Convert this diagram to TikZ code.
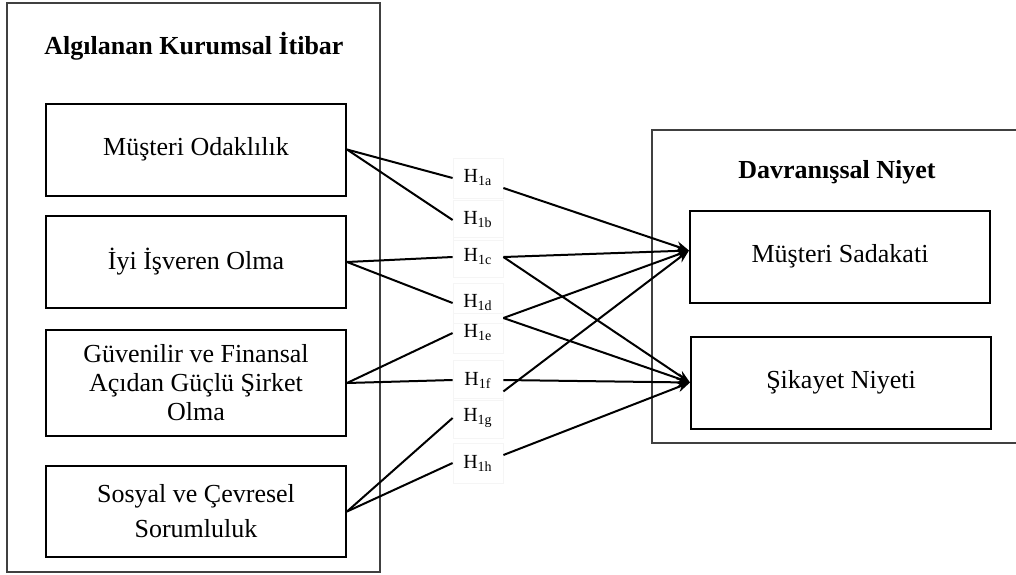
\documentclass[tikz,border=0pt]{standalone}
\usepackage{fontspec}
\setmainfont{Liberation Serif}
\usepackage{tikz}
\usetikzlibrary{arrows.meta,positioning,calc}

\begin{document}
\begin{tikzpicture}[
  x=0.5pt, y=-0.5pt,
  font=\fontsize{13}{14.5}\selectfont,
  frame/.style={draw=black!75, line width=0.6pt},
  box/.style={draw, line width=1pt, align=center, inner sep=4pt,
              minimum width=150pt, minimum height=46pt},
  hyp/.style={draw=black!4, line width=0.4pt, inner sep=1pt,
              font=\fontsize{10}{12}\selectfont,
              minimum width=25pt, minimum height=20pt},
  ttl/.style={font=\fontsize{13}{15}\selectfont\bfseries, anchor=base},
  ln/.style={line width=1pt},
  ar/.style={-{Stealth[length=6.5pt, width=5pt]}, line width=1pt}
]
\useasboundingbox (0,0) rectangle (1016,574);

% --- two frames ---------------------------------------------------------
\draw[frame] (7,3) rectangle (380,572);
\draw[frame] (1016,130) -- (652,130) -- (652,443) -- (1016,443);

\node[ttl] (tL) at (194,54.5) {Algılanan Kurumsal İtibar};
\node[ttl] (tR) at (837,178) {Davranışsal Niyet};

% --- reputation dimensions ----------------------------------------------
\node[box] (mo)  at (196,149.5) {Müşteri Odaklılık};
\node[box] (iio) at (196,262)   {İyi İşveren Olma};
\node[box, minimum height=53pt] (gfs) at (196,383)
     {Güvenilir ve Finansal\\Açıdan Güçlü Şirket\\Olma};
\node[box, minimum height=45.5pt] (scs) at (196,511.5)
     {Sosyal ve Çevresel\\[3pt]Sorumluluk};

% --- behavioural intention ----------------------------------------------
\node[box] (ms) at (840,256.5) {Müşteri Sadakati};
\node[box] (sn) at (841,382.5) {Şikayet Niyeti};

% --- hypothesis labels --------------------------------------------------
\foreach \h/\y in {a/178, b/220, c/257, d/303, e/333, f/380, g/418, h/463}{%
  \node[hyp] (h\h) at (478,\y) {H\textsubscript{1\h}};
}

% --- dimensions to labels -----------------------------------------------
\foreach \s/\t in {mo/ha, mo/hb, iio/hc, iio/hd, gfs/he, gfs/hf, scs/hg, scs/hh}{%
  \draw[ln] (\s.east) -- (\t.west);
}

% --- labels to outcomes -------------------------------------------------
\coordinate (inMS) at ($(ms.west)+(0,-6)$);
\coordinate (de) at ($(hd.east)!0.5!(he.east)$);
\coordinate (fg) at ($(hf.east)!0.3!(hg.east)$);
\draw[ar] ($(ha.east)+(0,10)$) -- (inMS);
\draw[ar] (hc.east) -- (inMS);
\draw[ar] (hc.east) -- (sn.west);
\draw[ar] (de) -- (inMS);
\draw[ar] (de) -- (sn.west);
\draw[ar] (hf.east) -- (sn.west);
\draw[ar] (fg) -- (inMS);
\draw[ar] ($(hh.east)+(0,-8)$) -- (sn.west);

\end{tikzpicture}
\end{document}
